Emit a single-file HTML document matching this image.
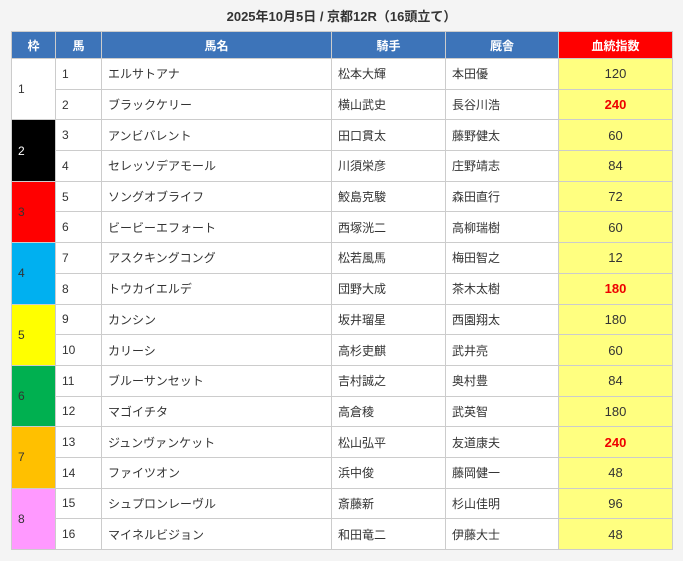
<!DOCTYPE html>
<html><head><meta charset="utf-8"><style>
body{margin:0;background:#f4f4f4;font-family:"Liberation Sans","Noto Sans CJK JP",sans-serif;width:683px;height:561px;overflow:hidden}
.t{position:absolute;top:6px;left:0;width:683px;text-align:center;font-size:13px;font-weight:bold;color:#333}
table{position:absolute;left:11px;top:31px;border-collapse:collapse;background:#fff;font-size:12px;color:#333;table-layout:fixed;width:661px}
tr{height:30.7px}
tr.h{height:27px}
th{background:#3d74b9;color:#fff;font-weight:bold;padding:0;border:1px solid #ccc;font-size:12px}
th.r{background:#f00}
td{padding:0 0 0 6px;border:1px solid #ccc}
td.s{background:#ffff80;text-align:center;padding:0;font-size:13px}
.red{color:#e00;font-weight:bold;font-size:14px}
</style></head><body>
<div class="t">2025年10月5日 / 京都12R（16頭立て）</div>
<table>
<colgroup><col style="width:44px"><col style="width:46px"><col style="width:230px"><col style="width:114px"><col style="width:113px"><col style="width:114px"></colgroup>
<tr class="h"><th>枠</th><th>馬</th><th>馬名</th><th>騎手</th><th>厩舎</th><th class="r">血統指数</th></tr>
<tr><td rowspan="2">1</td><td>1</td><td>エルサトアナ</td><td>松本大輝</td><td>本田優</td><td class="s">120</td></tr>
<tr><td>2</td><td>ブラックケリー</td><td>横山武史</td><td>長谷川浩</td><td class="s red">240</td></tr>
<tr><td rowspan="2" style="background:#000;color:#fff">2</td><td>3</td><td>アンビバレント</td><td>田口貫太</td><td>藤野健太</td><td class="s">60</td></tr>
<tr><td>4</td><td>セレッソデアモール</td><td>川須栄彦</td><td>庄野靖志</td><td class="s">84</td></tr>
<tr><td rowspan="2" style="background:#f00">3</td><td>5</td><td>ソングオブライフ</td><td>鮫島克駿</td><td>森田直行</td><td class="s">72</td></tr>
<tr><td>6</td><td>ビービーエフォート</td><td>西塚洸二</td><td>高柳瑞樹</td><td class="s">60</td></tr>
<tr><td rowspan="2" style="background:#00b0f0">4</td><td>7</td><td>アスクキングコング</td><td>松若風馬</td><td>梅田智之</td><td class="s">12</td></tr>
<tr><td>8</td><td>トウカイエルデ</td><td>団野大成</td><td>茶木太樹</td><td class="s red">180</td></tr>
<tr><td rowspan="2" style="background:#ff0">5</td><td>9</td><td>カンシン</td><td>坂井瑠星</td><td>西園翔太</td><td class="s">180</td></tr>
<tr><td>10</td><td>カリーシ</td><td>高杉吏麒</td><td>武井亮</td><td class="s">60</td></tr>
<tr><td rowspan="2" style="background:#00b050">6</td><td>11</td><td>ブルーサンセット</td><td>吉村誠之</td><td>奥村豊</td><td class="s">84</td></tr>
<tr><td>12</td><td>マゴイチタ</td><td>高倉稜</td><td>武英智</td><td class="s">180</td></tr>
<tr><td rowspan="2" style="background:#ffc000">7</td><td>13</td><td>ジュンヴァンケット</td><td>松山弘平</td><td>友道康夫</td><td class="s red">240</td></tr>
<tr><td>14</td><td>ファイツオン</td><td>浜中俊</td><td>藤岡健一</td><td class="s">48</td></tr>
<tr><td rowspan="2" style="background:#ff99ff">8</td><td>15</td><td>シュプロンレーヴル</td><td>斎藤新</td><td>杉山佳明</td><td class="s">96</td></tr>
<tr><td>16</td><td>マイネルビジョン</td><td>和田竜二</td><td>伊藤大士</td><td class="s">48</td></tr>
</table>
</body></html>
